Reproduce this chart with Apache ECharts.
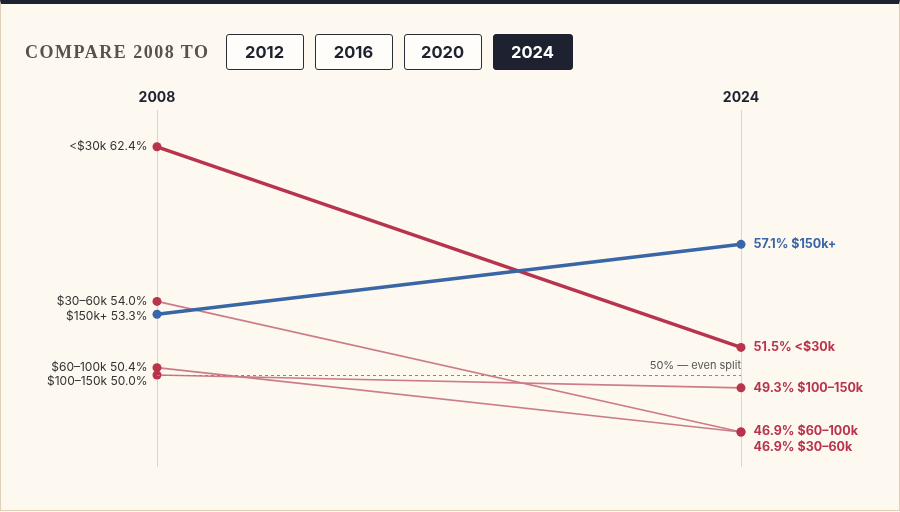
<!DOCTYPE html>
<html>
<head>
<meta charset="utf-8">
<script src="https://cdn.jsdelivr.net/npm/echarts@6/dist/echarts.min.js"></script>
<style>
  html, body { margin: 0; padding: 0; background: #fdf8f0; }
  .page {
    position: relative;
    width: 898px;
    height: 506px;
    border: 1px solid #ddd2b8;
    border-top: 4px solid #1e2230;
    background: #fdf8f0;
    overflow: hidden;
  }
  .header {
    position: absolute;
    left: 24px;
    top: 30px;
    display: flex;
    align-items: center;
    z-index: 2;
  }
  .header .lead {
    font-family: "Liberation Serif", "DejaVu Serif", serif;
    font-weight: bold;
    font-size: 18px;
    letter-spacing: 1.5px;
    color: #57524a;
    margin-right: 16px;
  }
  .btn {
    box-sizing: border-box;
    width: 78px;
    height: 36px;
    margin-right: 11px;
    border: 1.5px solid #2a2d35;
    border-radius: 3px;
    background: #fffdf9;
    color: #1e2230;
    font-family: Inter, Roboto, sans-serif;
    font-weight: bold;
    font-size: 16.5px;
    display: flex;
    align-items: center;
    justify-content: center;
  }
  .btn.active { background: #1e2230; color: #fff; width: 80px; border-color: #1e2230; }
  #chart { position: absolute; left: -1px; top: -4px; width: 900px; height: 512px; }
</style>
</head>
<body>
<div class="page">
  <div class="header">
    <span class="lead">COMPARE 2008 TO</span>
    <div class="btn">2012</div>
    <div class="btn">2016</div>
    <div class="btn">2020</div>
    <div class="btn active">2024</div>
  </div>
  <div id="chart"></div>
</div>
<script>
// vote share by income group, 2008 vs 2024
const years = ["2008", "2024"];
const incomeGroups = ["<$30k", "$30–60k", "$60–100k", "$100–150k", "$150k+"];
const share2008 = [62.4, 54.0, 50.4, 50.0, 53.3];
const share2024 = [51.5, 46.9, 46.9, 49.3, 57.1];
const evenSplit = 50;

const RED = "#b8344d";
const BLUE = "#3866a6";
const THIN = "#cc7c88";

// label nudges so stacked labels don't collide
const leftNudge = [0, 0, 0, 6, 2];
const rightNudge = [0, 15, -1, 0, 0];
// groups drawn as highlighted (thick) lines
const highlight = { "<$30k": RED, "$150k+": BLUE };

const chart = echarts.init(document.getElementById("chart"));

const series = incomeGroups.map((name, i) => {
  const hi = highlight[name];
  const dotColor = hi || RED;
  const lineColor = hi || THIN;
  return {
    name: name,
    type: "line",
    z: hi ? 5 : 3,
    symbol: "circle",
    symbolSize: 9,
    itemStyle: { color: dotColor },
    lineStyle: { color: lineColor, width: hi ? 3.5 : 1.6 },
    emphasis: { disabled: true },
    data: [
      {
        value: share2008[i],
        label: {
          show: true,
          position: "left",
          distance: 5,
          offset: [0, leftNudge[i]],
          color: "#333",
          fontSize: 12,
          fontFamily: "Inter, Roboto, sans-serif",
          formatter: name + " " + share2008[i].toFixed(1) + "%",
        },
      },
      {
        value: share2024[i],
        label: {
          show: true,
          position: "right",
          distance: 8,
          offset: [0, rightNudge[i]],
          color: hi === BLUE ? BLUE : RED,
          fontSize: 12.5,
          fontWeight: "bold",
          fontFamily: "Inter, Roboto, sans-serif",
          formatter: share2024[i].toFixed(1) + "% " + name,
        },
      },
    ],
  };
});

// even-split reference line
series.push({
  type: "line",
  data: [],
  markLine: {
    silent: true,
    symbol: "none",
    lineStyle: { color: "#888", type: [3, 3], width: 1 },
    label: {
      position: "insideEndTop",
      formatter: "50% — even split",
      color: "#555",
      fontSize: 11,
      fontFamily: "Inter, Roboto, sans-serif",
      distance: [0, 4],
    },
    data: [{ yAxis: evenSplit }],
  },
});

chart.setOption({
  animation: false,
  backgroundColor: "transparent",
  grid: { left: 157, right: 159, top: 110, bottom: 45 },
  xAxis: {
    type: "category",
    data: years,
    position: "top",
    boundaryGap: false,
    axisLine: { show: false },
    axisTick: { show: false },
    axisLabel: {
      color: "#1e2230",
      fontWeight: "bold",
      fontSize: 14,
      margin: 5,
      fontFamily: "Inter, Roboto, sans-serif",
    },
    splitLine: { show: true, lineStyle: { color: "#e0d7b9", width: 1 } },
  },
  yAxis: {
    type: "value",
    min: 45,
    max: 64.4,
    show: false,
  },
  series: series,
});
</script>
</body>
</html>
